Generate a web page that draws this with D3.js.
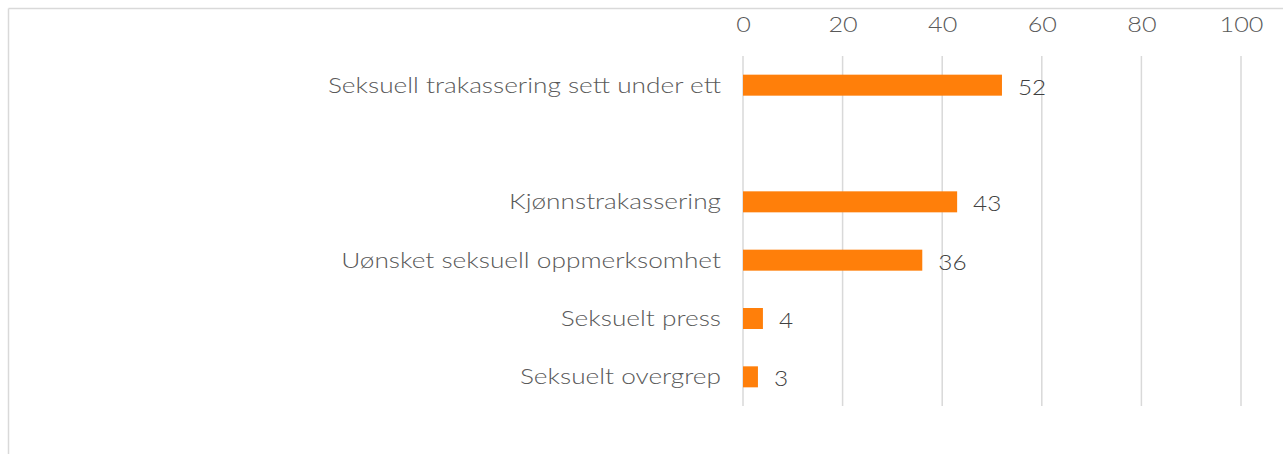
<!DOCTYPE html>
<html>
<head>
<meta charset="utf-8">
<script src="https://cdn.jsdelivr.net/npm/d3@7"></script>
<style>
  body { margin: 0; background: #fff; }
  svg { display: block; font-family: "Lato", "Open Sans", sans-serif; }
</style>
</head>
<body>
<svg id="chart" width="1283" height="454"></svg>
<script>
// categories top to bottom, "" is the blank row in the middle
const categories = ['Seksuell trakassering sett under ett', '', 'Kjønnstrakassering',
  'Uønsket seksuell oppmerksomhet', 'Seksuelt press', 'Seksuelt overgrep']
const values = [52, null, 43, 36, 4, 3]
const ticks = [0, 20, 40, 60, 80, 100]

const svg = d3.select('#chart')
const plotLeft = 743, plotRight = 1241, plotTop = 56, plotBottom = 406

// widen glyphs a bit, the original font is a wide geometric one
function widen(sel, k) {
  sel.each(function() {
    const w = this.getComputedTextLength()
    d3.select(this).attr('textLength', w * k).attr('lengthAdjust', 'spacingAndGlyphs')
  })
}

// chart frame (top + left edge visible)
svg.append('line').attr('x1', 8.5).attr('x2', 1283).attr('y1', 8.5).attr('y2', 8.5)
  .attr('stroke', '#d9d9d9').attr('stroke-width', 1.5)
svg.append('line').attr('x1', 8.5).attr('x2', 8.5).attr('y1', 8.5).attr('y2', 454)
  .attr('stroke', '#d9d9d9').attr('stroke-width', 1.5)

const x = d3.scaleLinear().domain([0, 100]).range([plotLeft, plotRight])
const y = d3.scaleBand().domain(d3.range(categories.length)).range([plotTop, plotBottom]).paddingInner(0.64).paddingOuter(0.32)

// gridlines
svg.append('g').selectAll('line').data(ticks).enter().append('line')
  .attr('x1', d => x(d)).attr('x2', d => x(d))
  .attr('y1', plotTop).attr('y2', plotBottom)
  .attr('stroke', '#d9d9d9').attr('stroke-width', 1.5)

// top axis
const axis = svg.append('g').attr('transform', `translate(0,${plotTop})`)
  .call(d3.axisTop(x).tickValues(ticks).tickSize(0).tickPadding(0))
axis.select('.domain').remove()
axis.selectAll('text')
  .attr('y', -31)
  .attr('font-size', 21)
  .attr('font-weight', 300)
  .attr('fill', '#595959')
  .attr('dy', '0.35em')
  .style('font-family', 'Lato, "Open Sans", sans-serif')
widen(axis.selectAll('text'), 1.2)

const rows = categories.map((c, i) => ({ c, v: values[i], i }))

// category labels
const catLabels = svg.append('g').selectAll('text').data(rows.filter(d => d.c)).enter().append('text')
  .attr('x', plotLeft - 22)
  .attr('y', d => y(d.i) + y.bandwidth() / 2)
  .attr('dy', '0.35em')
  .attr('text-anchor', 'end')
  .attr('font-size', 21)
  .attr('font-weight', 300)
  .attr('fill', '#595959')
  .text(d => d.c)
widen(catLabels, 1.25)

// bars
const withVal = rows.filter(d => d.v != null)
svg.append('g').selectAll('rect').data(withVal).enter().append('rect')
  .attr('x', x(0))
  .attr('y', d => y(d.i))
  .attr('width', d => x(d.v) - x(0))
  .attr('height', y.bandwidth())
  .attr('fill', '#ff7f0a')

// value labels
const valLabels = svg.append('g').selectAll('text').data(withVal).enter().append('text')
  .attr('x', d => x(d.v) + 16)
  .attr('y', d => y(d.i) + y.bandwidth() / 2 + 2)
  .attr('dy', '0.35em')
  .attr('font-size', 21)
  .attr('font-weight', 300)
  .attr('fill', '#404040')
  .text(d => d.v)
widen(valLabels, 1.16)
</script>
</body>
</html>
